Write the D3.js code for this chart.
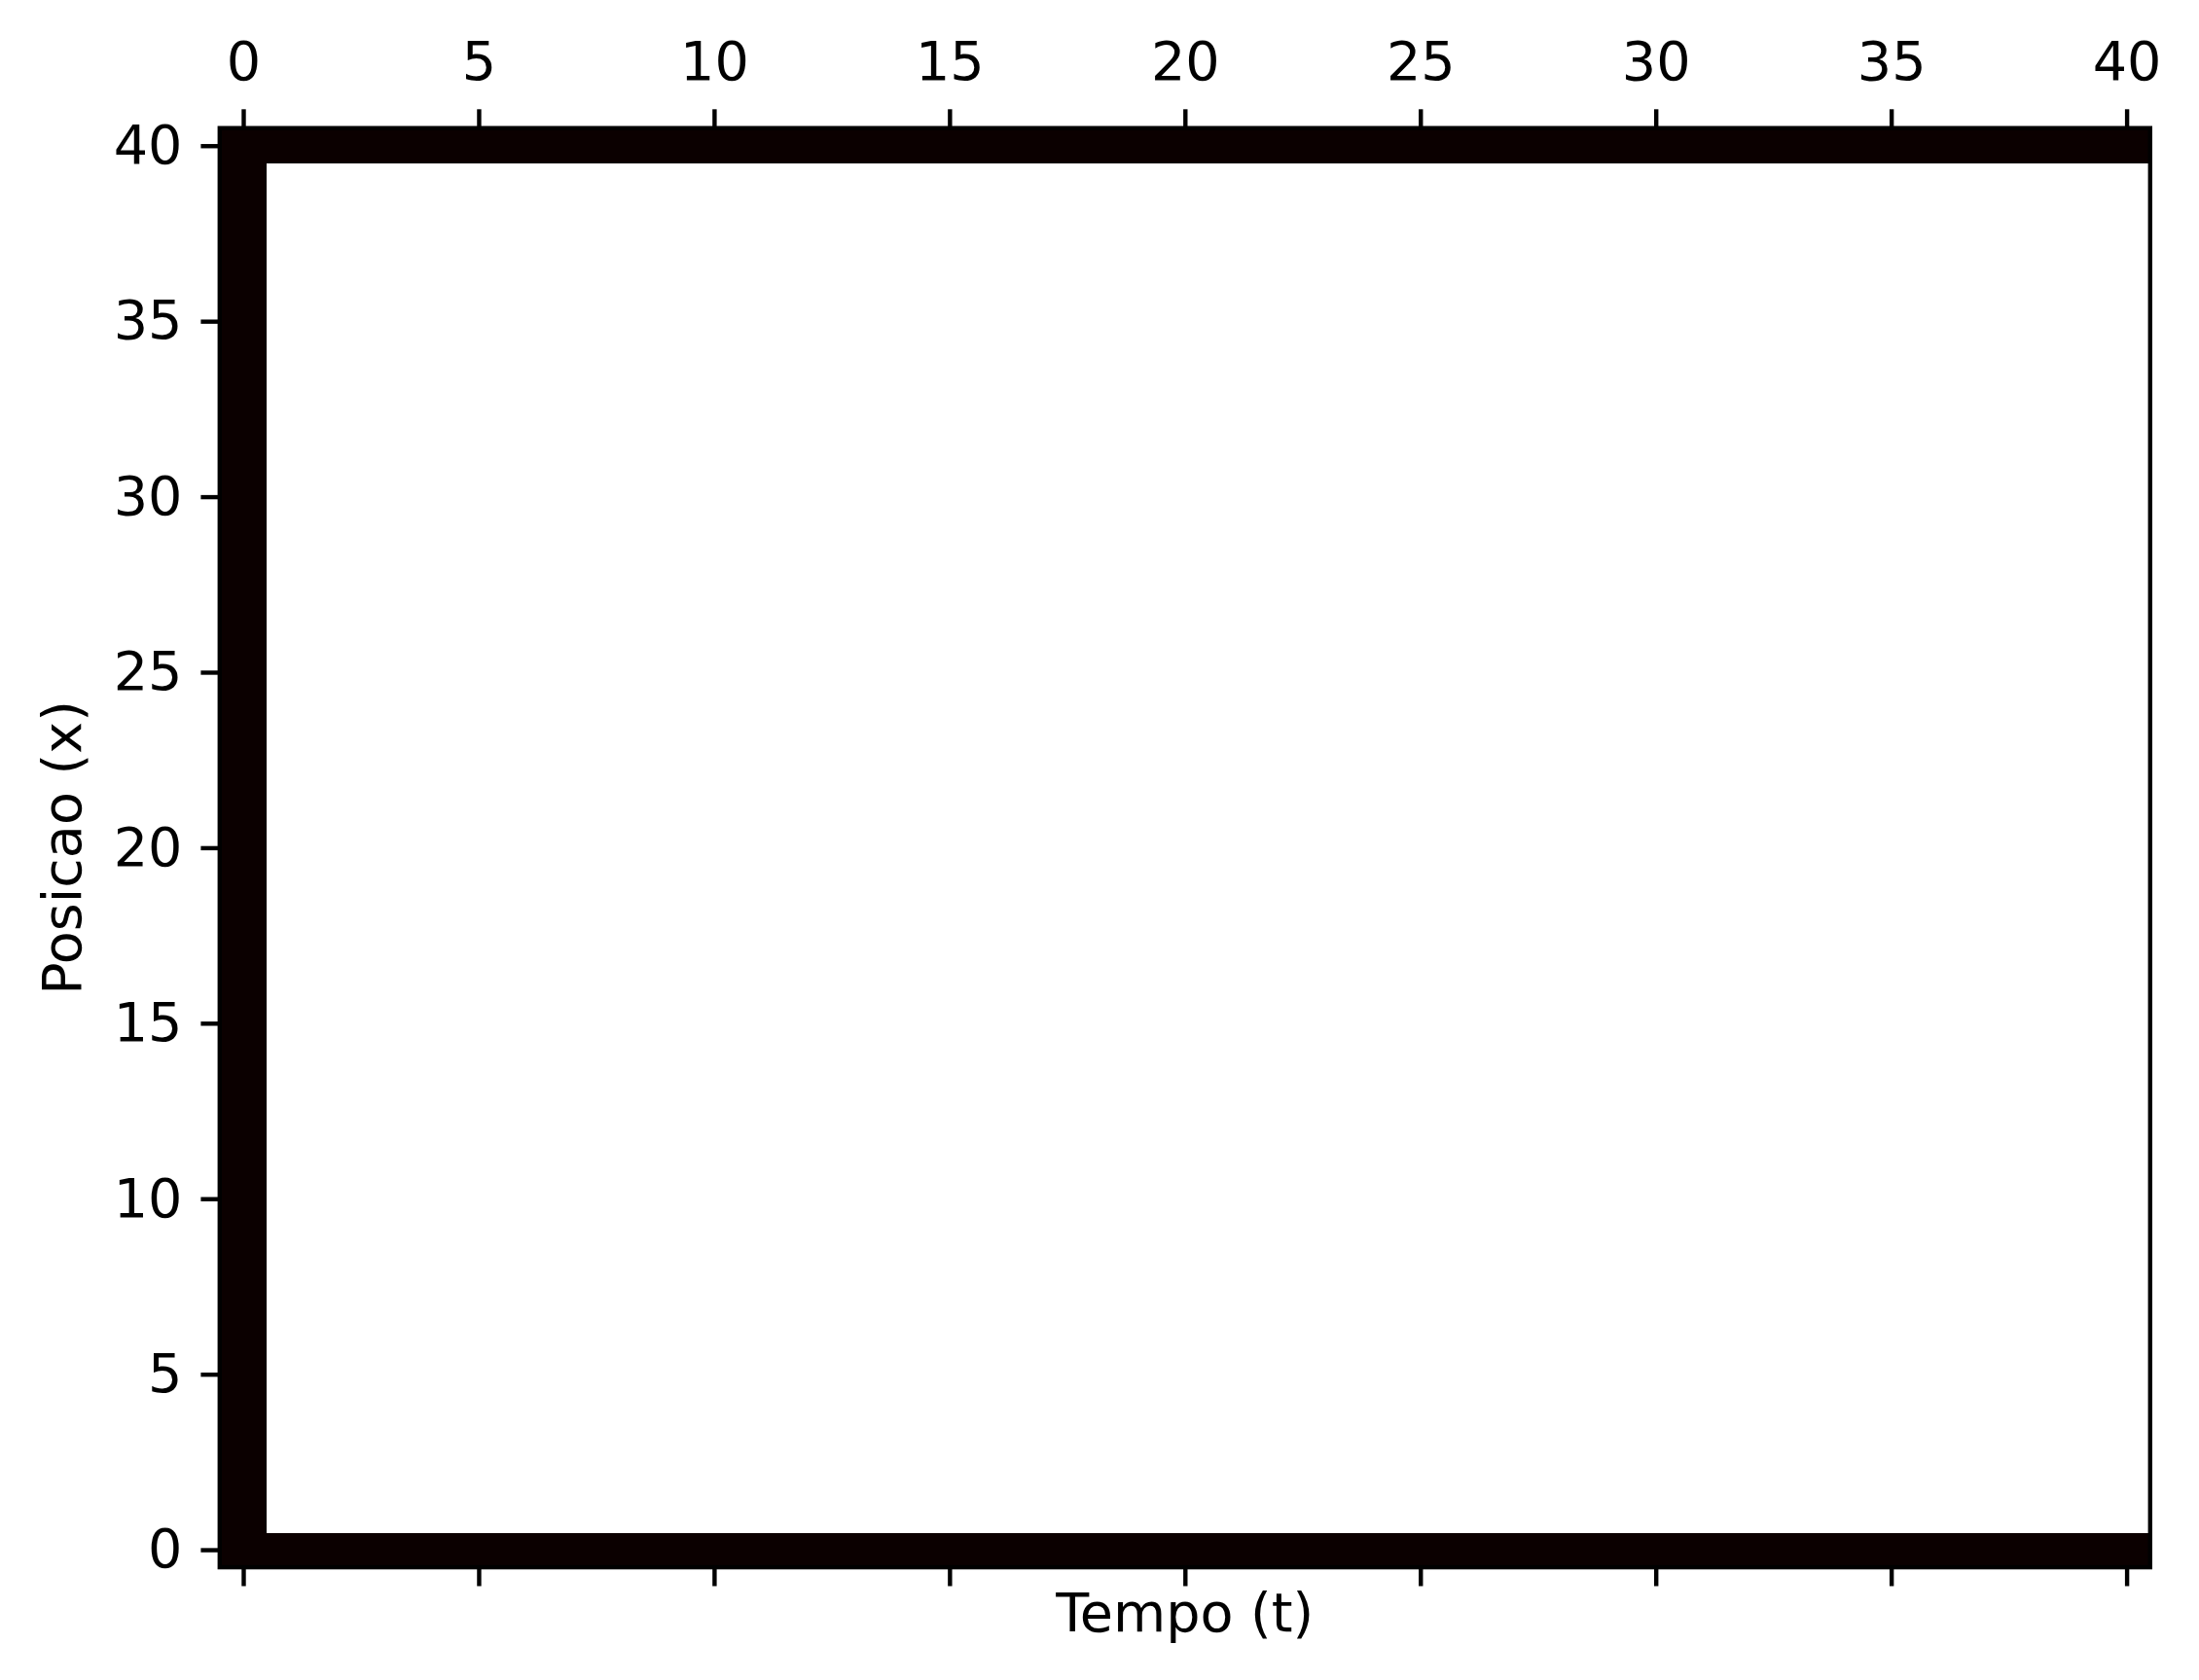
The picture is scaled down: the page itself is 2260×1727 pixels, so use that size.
<!DOCTYPE html>
<html>
<head>
<meta charset="utf-8">
<script src="https://cdn.jsdelivr.net/npm/d3@7"></script>
<style>
  html, body { margin: 0; padding: 0; background: #ffffff; }
  svg { display: block; }
  text { font-family: "DejaVu Sans", sans-serif; }
</style>
</head>
<body>
<svg id="chart" width="2260" height="1727"></svg>
<script>
// ---- data ----
const xTicks = [0, 5, 10, 15, 20, 25, 30, 35, 40];
const yTicks = [0, 5, 10, 15, 20, 25, 30, 35, 40];
const xLabel = "Tempo (t)";
const yLabel = "Posicao (x)";
// grid rows (row index = position, from 0 at the bottom), each char = value at time column
const rowZero  = "00000000000000000000000000000000000000000";
const rowInner = "01111111111111111111111111111111111111111";
const gridRows = [
  rowZero,
  rowInner, rowInner, rowInner, rowInner, rowInner, rowInner, rowInner, rowInner, rowInner, rowInner,
  rowInner, rowInner, rowInner, rowInner, rowInner, rowInner, rowInner, rowInner, rowInner, rowInner,
  rowInner, rowInner, rowInner, rowInner, rowInner, rowInner, rowInner, rowInner, rowInner, rowInner,
  rowInner, rowInner, rowInner, rowInner, rowInner, rowInner, rowInner, rowInner, rowInner,
  rowZero
];

// ---- layout ----
const L = 225.8, R = 2209.8, T = 131.7, B = 1611.1;
const fs = 55.6, tickLen = 19.4, lw = 4.4;

const svg = d3.select("#chart");
const nCols = gridRows[0].length, nRows = gridRows.length;
const x = d3.scaleLinear().domain([-0.5, nCols - 0.5]).range([L, R]);
const y = d3.scaleLinear().domain([-0.5, nRows - 0.5]).range([B, T]);

// matplotlib "hot" colormap
const hot = v => {
  const r = Math.min(1, 0.0416 + v / 0.365079);
  const g = Math.min(1, Math.max(0, (v - 0.365079) / (0.746032 - 0.365079)));
  const b = Math.min(1, Math.max(0, (v - 0.746032) / (1 - 0.746032)));
  return d3.rgb(Math.round(r * 255), Math.round(g * 255), Math.round(b * 255)).toString();
};

const cells = [];
gridRows.forEach((row, i) => {
  row.split("").forEach((c, j) => cells.push({ t: j, p: i, v: +c }));
});

const vmin = d3.min(cells, d => d.v), vmax = d3.max(cells, d => d.v);
const norm = d3.scaleLinear().domain([vmin, vmax]).range([0, 1]);

svg.append("g")
  .attr("shape-rendering", "crispEdges")
  .selectAll("rect")
  .data(cells)
  .join("rect")
  .attr("x", d => x(d.t - 0.5))
  .attr("y", d => y(d.p + 0.5))
  .attr("width", d => x(d.t + 0.5) - x(d.t - 0.5) + 0.5)
  .attr("height", d => y(d.p - 0.5) - y(d.p + 0.5) + 0.5)
  .attr("fill", d => hot(norm(d.v)));

// spines
svg.append("rect")
  .attr("x", L).attr("y", T)
  .attr("width", R - L).attr("height", B - T)
  .attr("fill", "none").attr("stroke", "#000").attr("stroke-width", lw);

// axes
function styleAxis(g) {
  g.select(".domain").remove();
  g.selectAll(".tick line").attr("stroke", "#000").attr("stroke-width", lw);
  g.selectAll(".tick text").attr("fill", "#000").style("font-size", fs + "px")
    .style("font-family", "'DejaVu Sans', sans-serif");
}

svg.append("g")
  .attr("transform", `translate(0,${T})`)
  .call(d3.axisTop(x).tickValues(xTicks).tickSize(tickLen).tickPadding(30).tickFormat(d3.format("d")))
  .call(styleAxis);

svg.append("g")
  .attr("transform", `translate(0,${B})`)
  .call(d3.axisBottom(x).tickValues(xTicks).tickSize(tickLen).tickFormat(""))
  .call(styleAxis);

svg.append("g")
  .attr("transform", `translate(${L},0)`)
  .call(d3.axisLeft(y).tickValues(yTicks).tickSize(tickLen).tickPadding(19).tickFormat(d3.format("d")))
  .call(styleAxis);

// axis labels
svg.append("text")
  .attr("x", (L + R) / 2).attr("y", 1677)
  .attr("text-anchor", "middle")
  .style("font-size", fs + "px").attr("fill", "#000")
  .text(xLabel);

svg.append("text")
  .attr("transform", `translate(83,${(T + B) / 2}) rotate(-90)`)
  .attr("text-anchor", "middle")
  .style("font-size", fs + "px").attr("fill", "#000")
  .text(yLabel);
</script>
</body>
</html>
